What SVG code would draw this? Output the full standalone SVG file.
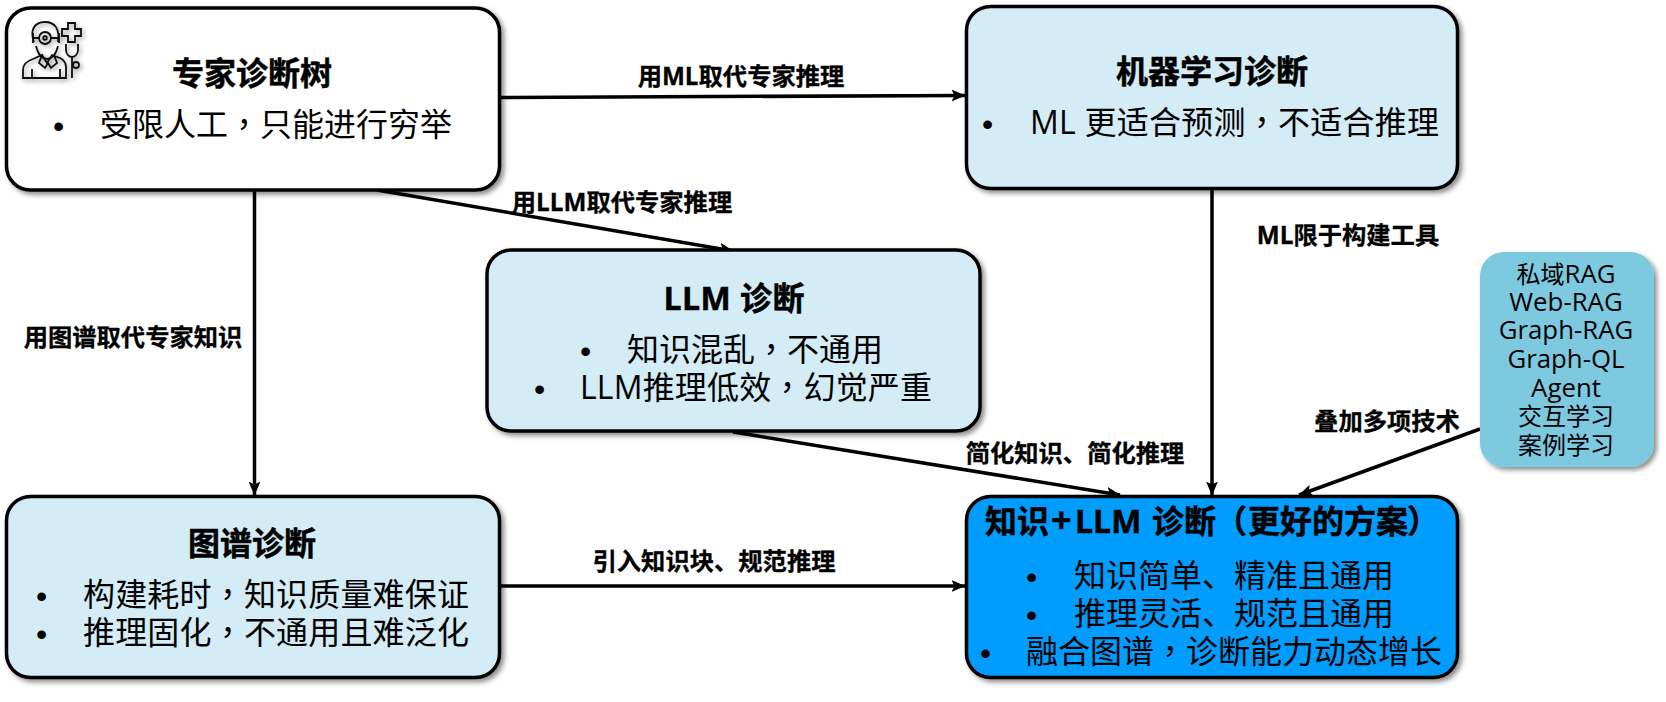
<svg xmlns="http://www.w3.org/2000/svg" width="1666" height="702" viewBox="0 0 1666 702">
<style>
text{font-family:"Open Sans","Noto Sans CJK SC",sans-serif;fill:#000}
.t{font-size:32px;font-weight:700;text-anchor:middle;stroke:#000;stroke-width:.5}
.b{font-size:32px;text-anchor:start}
.d{font-family:"Liberation Sans",sans-serif;font-size:32px}
.p{font-family:"Noto Sans CJK TC",sans-serif}
.l{font-size:24.300px;font-weight:700;text-anchor:middle;stroke:#000;stroke-width:.3}
.s{font-size:24px;text-anchor:middle}
.g{font-size:25.800px}
.n{stroke:#000;stroke-width:3.500;filter:url(#sh)}
.c{stroke:#000;stroke-width:3.500;fill:none;marker-end:url(#a)}
.ic{fill:none;stroke:#111;stroke-width:1.800}
</style>
<defs>
<filter id="sh" x="-5%" y="-5%" width="112%" height="115%"><feDropShadow dx="3" dy="3" stdDeviation="2.500" flood-color="#000" flood-opacity=".45"/></filter>
<filter id="si" x="-20%" y="-20%" width="150%" height="150%"><feDropShadow dx="2" dy="2" stdDeviation="2" flood-color="#000" flood-opacity=".4"/></filter>
<marker id="a" viewBox="0 0 14 12" refX="13.500" refY="6" markerWidth="14" markerHeight="12" markerUnits="userSpaceOnUse" orient="auto"><path d="M0 0L14 6L0 12L3 6Z" fill="#000"/></marker>
</defs>
<g id="connectors">
<path class="c" d="M501 97.500L965 95.500"/>
<path class="c" d="M377 190L733 251"/>
<path class="c" d="M254.500 191V495"/>
<path class="c" d="M1212 189V495"/>
<path class="c" d="M733 432L1120 495"/>
<path class="c" d="M1480 429L1299 495"/>
<path class="c" d="M501 586H965"/>
</g>
<g id="labels">
<text class="l" x="741" y="85">用ML取代专家推理</text>
<text class="l" x="622" y="211">用LLM取代专家推理</text>
<text class="l" x="133" y="346">用图谱取代专家知识</text>
<text class="l" x="1348" y="244">ML限于构建工具</text>
<text class="l" x="1075" y="462">简化知识、简化推理</text>
<text class="l" x="1387" y="430">叠加多项技术</text>
<text class="l" x="714" y="570">引入知识块、规范推理</text>
</g>
<g id="expert">
<rect class="n" x="6.500" y="8" width="493" height="182" rx="24" fill="#fff"/>
<g id="expert-icon" class="ic" filter="url(#si)">
<path d="M34 42c-4-10-1-20 11-20 10 0 15 7 13 20M36 46c2 8 6 13 11 13s9-5 11-13"/>
<circle cx="45" cy="38" r="6"/><circle cx="45" cy="38" r="1.800"/>
<path d="M33 38h6M51 38h8M33 33v10M59 33v10"/>
<path d="M23 78V70c0-6 4-9 10-11l9-4 5 8 5-8 8 3c4 2 6 5 6 9v11ZM32 78v-9M60 78v-9M42 55l-3 8 6 5 3-5 3 5 6-5-3-8"/>
<path d="M68 23h7v6h6v7h-6v6h-7v-6h-6v-7h6Z"/>
<path d="M66 44v6c0 5 4 7 6 7s6-2 6-7v-6M72 57v21"/>
<circle cx="76" cy="65" r="3"/>
</g>
<text class="t" x="252" y="85">专家诊断树</text>
<text class="b d" x="53" y="137">•</text>
<text class="b" x="100" y="136">受限人工<tspan class="p">，</tspan>只能进行穷举</text>
</g>
<g id="ml">
<rect class="n" x="966.500" y="6.500" width="491" height="182" rx="24" fill="#d4ecf5"/>
<text class="t" x="1212" y="83">机器学习诊断</text>
<text class="b d" x="982" y="135">•</text>
<text class="b" x="1030" y="134" textLength="409">ML 更适合预测<tspan class="p">，</tspan>不适合推理</text>
</g>
<g id="llm">
<rect class="n" x="487" y="250" width="493" height="181" rx="24" fill="#d4ecf5"/>
<text class="t" x="734" y="310" textLength="141">LLM 诊断</text>
<text class="b d" x="580" y="362">•</text>
<text class="b" x="627" y="361">知识混乱<tspan class="p">，</tspan>不通用</text>
<text class="b d" x="534" y="400">•</text>
<text class="b" x="580" y="399" textLength="352">LLM推理低效<tspan class="p">，</tspan>幻觉严重</text>
</g>
<g id="graph">
<rect class="n" x="6.500" y="496.500" width="493" height="181" rx="24" fill="#d4ecf5"/>
<text class="t" x="252" y="555">图谱诊断</text>
<text class="b d" x="36" y="607">•</text>
<text class="b" x="83" y="606" textLength="386">构建耗时<tspan class="p">，</tspan>知识质量难保证</text>
<text class="b d" x="36" y="645">•</text>
<text class="b" x="83" y="644" textLength="386">推理固化<tspan class="p">，</tspan>不通用且难泛化</text>
</g>
<g id="tech">
<rect x="1480" y="252" width="174" height="215" rx="24" fill="#7bc9e0" filter="url(#sh)"/>
<text class="s" x="1566" y="283">私域<tspan class="g">RAG</tspan></text>
<text class="s g" x="1566" y="311">Web-RAG</text>
<text class="s g" x="1566" y="339">Graph-RAG</text>
<text class="s g" x="1566" y="368">Graph-QL</text>
<text class="s g" x="1566" y="397">Agent</text>
<text class="s" x="1566" y="425">交互学习</text>
<text class="s" x="1566" y="454">案例学习</text>
</g>
<g id="knowledge">
<rect class="n" x="966.500" y="496.500" width="491" height="181" rx="24" fill="#009dff"/>
<text class="t" y="533" style="text-anchor:start"><tspan x="985">知识</tspan><tspan x="1051" font-size="36">+</tspan><tspan x="1075">LLM</tspan><tspan x="1152">诊断</tspan><tspan class="p" x="1215">（</tspan><tspan x="1248">更好的方案</tspan><tspan class="p" x="1407">）</tspan></text>
<text class="b d" x="1026" y="588">•</text>
<text class="b" x="1074" y="587">知识简单、精准且通用</text>
<text class="b d" x="1026" y="626">•</text>
<text class="b" x="1074" y="625">推理灵活、规范且通用</text>
<text class="b d" x="980" y="664">•</text>
<text class="b" x="1026" y="663">融合图谱<tspan class="p">，</tspan>诊断能力动态增长</text>
</g>
</svg>
